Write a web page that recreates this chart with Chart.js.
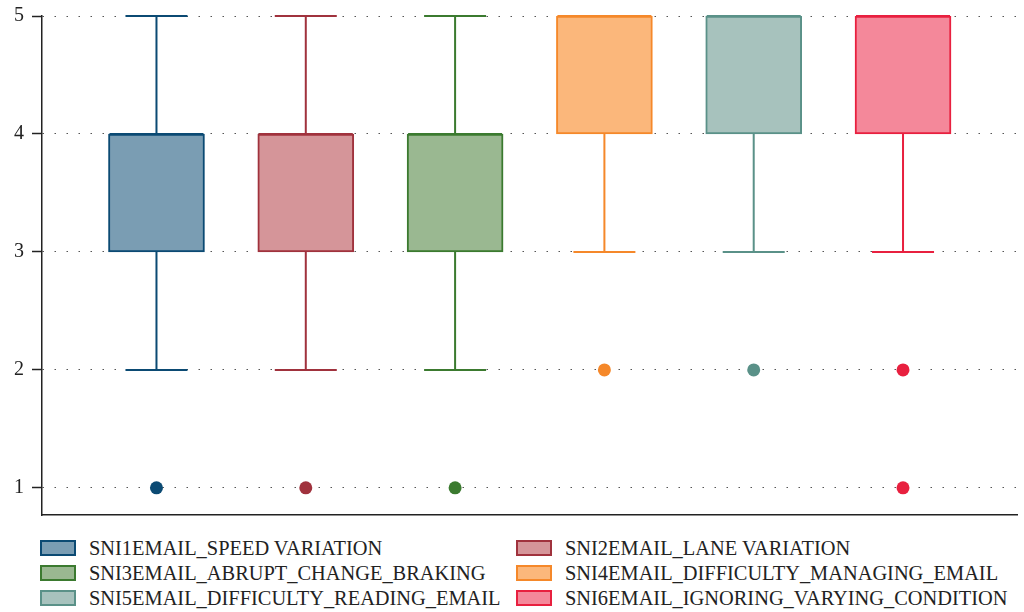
<!DOCTYPE html>
<html>
<head>
<meta charset="utf-8">
<script src="https://cdn.jsdelivr.net/npm/chart.js@4.4.1/dist/chart.umd.min.js"></script>
<style>
  body { margin: 0; background: #fff; }
  #wrap { position: relative; width: 1024px; height: 612px; }
  #chart { position: absolute; left: 0; top: 0; }
  #legend {
    position: absolute; left: 40px; top: 537px;
    display: grid; grid-template-columns: 476px 480px; row-gap: 3px;
    font-family: "Liberation Serif", "DejaVu Serif", serif; font-size: 20.4px; color: #222;
  }
  .item { display: flex; align-items: center; height: 22px; white-space: nowrap; }
  .swatch { flex: 0 0 auto; width: 32px; height: 12px; border: 2px solid; margin-right: 13px; }
</style>
</head>
<body>
<div id="wrap">
  <canvas id="chart" width="1024" height="530"></canvas>
  <div id="legend"></div>
</div>
<script>
// one box per survey item
const labels = [
  'SNI1EMAIL_SPEED VARIATION',
  'SNI2EMAIL_LANE VARIATION',
  'SNI3EMAIL_ABRUPT_CHANGE_BRAKING',
  'SNI4EMAIL_DIFFICULTY_MANAGING_EMAIL',
  'SNI5EMAIL_DIFFICULTY_READING_EMAIL',
  'SNI6EMAIL_IGNORING_VARYING_CONDITION'
];
const mins = [2, 2, 2, 3, 3, 3];
const q1s = [3, 3, 3, 4, 4, 4];
const medians = [4, 4, 4, 5, 5, 5];
const q3s = [4, 4, 4, 5, 5, 5];
const maxs = [5, 5, 5, 5, 5, 5];
const outliers = [[1], [1], [1], [2], [2], [2, 1]];
const yTicks = [1, 2, 3, 4, 5];

const lineColors = ['#0b4a73', '#a0323d', '#3b7a2f', '#f5882a', '#5a9188', '#e8203f'];
const fillColors = ['#7a9db3', '#d59599', '#9ab891', '#fbb77b', '#a7c2bd', '#f4889a'];

const boxSets = labels.map((label, i) => ({
  type: 'bar',
  label: label,
  data: [{ x: i, y: [q1s[i], q3s[i]] }],
  backgroundColor: fillColors[i],
  borderColor: lineColors[i],
  borderWidth: 2,
  borderSkipped: false,
  barThickness: 96,
  grouped: false,
  order: 2
}));

const outlierSets = labels.map((label, i) => ({
  type: 'scatter',
  label: label + ' outliers',
  data: outliers[i].map(v => ({ x: i, y: v })),
  backgroundColor: lineColors[i],
  borderWidth: 0,
  pointRadius: 6.5,
  order: 1
}));

// whiskers, caps and medians, placed with the chart scales
const whiskers = {
  id: 'whiskers',
  beforeDatasetsDraw(chart) {
    const { ctx, scales: { x, y } } = chart;
    ctx.save();
    ctx.lineWidth = 2;
    labels.forEach((l, i) => {
      const cx = x.getPixelForValue(i);
      ctx.strokeStyle = lineColors[i];
      ctx.beginPath();
      ctx.moveTo(cx, y.getPixelForValue(q1s[i]));
      ctx.lineTo(cx, y.getPixelForValue(mins[i]));
      ctx.moveTo(cx, y.getPixelForValue(q3s[i]));
      ctx.lineTo(cx, y.getPixelForValue(maxs[i]));
      [mins[i], maxs[i]].forEach(v => {
        const py = y.getPixelForValue(v);
        ctx.moveTo(cx - 31, py);
        ctx.lineTo(cx + 31, py);
      });
      ctx.stroke();
    });
    ctx.restore();
  },
  afterDatasetsDraw(chart) {
    const { ctx, scales: { x, y } } = chart;
    ctx.save();
    ctx.lineWidth = 2;
    labels.forEach((l, i) => {
      const cx = x.getPixelForValue(i);
      const py = y.getPixelForValue(medians[i]);
      ctx.strokeStyle = lineColors[i];
      ctx.beginPath();
      ctx.moveTo(cx - 47, py);
      ctx.lineTo(cx + 47, py);
      ctx.stroke();
    });
    ctx.restore();
  }
};

new Chart(document.getElementById('chart'), {
  data: { datasets: [...boxSets, ...outlierSets] },
  options: {
    responsive: false,
    animation: false,
    layout: { padding: { left: 6, right: 2, top: 16, bottom: 15 } },
    plugins: { legend: { display: false }, tooltip: { enabled: false } },
    scales: {
      x: {
        type: 'linear',
        offset: false,
        min: -0.7667,
        max: 5.7667,
        ticks: { display: false },
        grid: { display: false, drawTicks: false },
        border: { display: true, color: '#222', width: 1.5 }
      },
      y: {
        type: 'linear',
        min: 0.77,
        max: 5,
        afterBuildTicks: (scale) => { scale.ticks = yTicks.map(v => ({ value: v })); },
        ticks: {
          color: '#222',
          padding: 8,
          font: { family: '"Liberation Serif", "DejaVu Serif", serif', size: 20, lineHeight: 0.5 }
        },
        grid: {
          color: '#555',
          lineWidth: 1,
          tickLength: 10,
          tickColor: '#222',
          tickWidth: 1.5,
          tickBorderDash: []
        },
        border: { display: true, color: '#222', width: 1.5, dash: [1.5, 10.5], dashOffset: 0 }
      }
    }
  },
  plugins: [whiskers]
});

// legend in two columns
const legend = document.getElementById('legend');
labels.forEach((label, i) => {
  const item = document.createElement('div');
  item.className = 'item';
  const sw = document.createElement('span');
  sw.className = 'swatch';
  sw.style.background = fillColors[i];
  sw.style.borderColor = lineColors[i];
  const txt = document.createElement('span');
  txt.textContent = label;
  item.append(sw, txt);
  legend.append(item);
});
</script>
</body>
</html>
